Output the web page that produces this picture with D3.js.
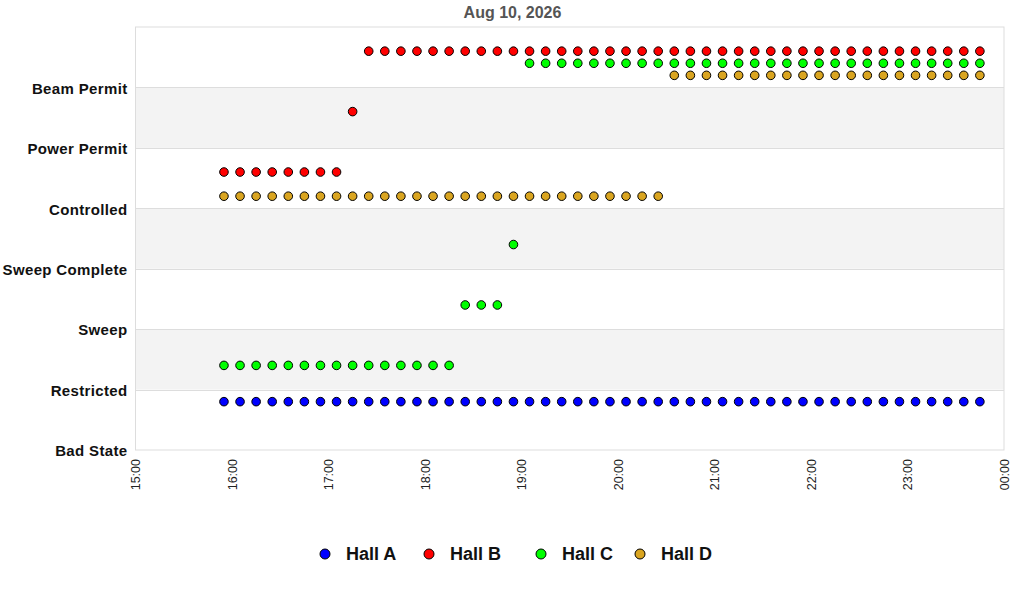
<!DOCTYPE html>
<html>
<head>
<meta charset="utf-8">
<script src="https://cdn.jsdelivr.net/npm/d3@7"></script>
<style>
  body { margin: 0; background: #fff; }
  svg { font-family: "Liberation Sans", Arial, sans-serif; }
  .grid-line { stroke: #dddddd; stroke-width: 1; }
</style>
</head>
<body>
<svg id="chart"></svg>
<script>
// states, bottom to top (label sits at the bottom edge of its band)
let states = ["Bad State", "Restricted", "Sweep", "Sweep Complete", "Controlled", "Power Permit", "Beam Permit"];
let halls = ["Hall A", "Hall B", "Hall C", "Hall D"];
let hallColors = ["#0000ff", "#ff0000", "#00ff00", "#daa520"];
// position of each hall inside a band
let hallOffsets = [0.8, 0.6, 0.4, 0.2];
let xTicks = ["15:00", "16:00", "17:00", "18:00", "19:00", "20:00", "21:00", "22:00", "23:00", "00:00"];
let title = "Aug 10, 2026";

// sample times (one every 10 minutes)
let times = ["15:55", "16:05", "16:15", "16:25", "16:35", "16:45", "16:55", "17:05",
	"17:15", "17:25", "17:35", "17:45", "17:55", "18:05", "18:15", "18:25",
	"18:35", "18:45", "18:55", "19:05", "19:15", "19:25", "19:35", "19:45",
	"19:55", "20:05", "20:15", "20:25", "20:35", "20:45", "20:55", "21:05",
	"21:15", "21:25", "21:35", "21:45", "21:55", "22:05", "22:15", "22:25",
	"22:35", "22:45", "22:55", "23:05", "23:15", "23:25", "23:35", "23:45"];

// state index of each hall at each sample time
let hallA = [0, 0, 0, 0, 0, 0, 0, 0, 0, 0, 0, 0, 0, 0, 0, 0,
	0, 0, 0, 0, 0, 0, 0, 0, 0, 0, 0, 0, 0, 0, 0, 0,
	0, 0, 0, 0, 0, 0, 0, 0, 0, 0, 0, 0, 0, 0, 0, 0];
let hallB = [4, 4, 4, 4, 4, 4, 4, 4, 5, 6, 6, 6, 6, 6, 6, 6,
	6, 6, 6, 6, 6, 6, 6, 6, 6, 6, 6, 6, 6, 6, 6, 6,
	6, 6, 6, 6, 6, 6, 6, 6, 6, 6, 6, 6, 6, 6, 6, 6];
let hallC = [1, 1, 1, 1, 1, 1, 1, 1, 1, 1, 1, 1, 1, 1, 1, 2,
	2, 2, 3, 6, 6, 6, 6, 6, 6, 6, 6, 6, 6, 6, 6, 6,
	6, 6, 6, 6, 6, 6, 6, 6, 6, 6, 6, 6, 6, 6, 6, 6];
let hallD = [4, 4, 4, 4, 4, 4, 4, 4, 4, 4, 4, 4, 4, 4, 4, 4,
	4, 4, 4, 4, 4, 4, 4, 4, 4, 4, 4, 4, 6, 6, 6, 6,
	6, 6, 6, 6, 6, 6, 6, 6, 6, 6, 6, 6, 6, 6, 6, 6];
let hallSeries = [hallA, hallB, hallC, hallD];

let width = 1024;
let height = 600;
let marginLeft = 135.5;
let marginRight = 20;
let marginTop = 27;
let plotBottom = 450;

let svg = d3.select("#chart").attr("width", width).attr("height", height);

// times as minutes after 15:00; 00:00 is the end of the day
let toMin = function(s) {
	let p = s.split(":");
	let m = (+p[0]) * 60 + (+p[1]);
	if (m < 15 * 60) m += 24 * 60;
	return m - 15 * 60;
};

let scaleX = d3.scaleLinear()
	.domain([toMin(xTicks[0]), toMin(xTicks[xTicks.length - 1])])
	.range([marginLeft, width - marginRight]);
let scaleY = d3.scaleLinear()
	.domain([0, states.length])
	.range([plotBottom, marginTop]);

// shaded bands
let bandIdx = d3.range(states.length).filter(d => d % 2 == 1);
svg.selectAll(".band")
	.data(bandIdx)
	.enter()
	.append("rect")
	.attr("x", scaleX.range()[0])
	.attr("width", scaleX.range()[1] - scaleX.range()[0])
	.attr("y", d => scaleY(d + 1))
	.attr("height", d => scaleY(d) - scaleY(d + 1))
	.style("fill", "#f3f3f3");

// y axis (labels only) + horizontal grid
let axisY = d3.axisLeft(scaleY)
	.tickValues(d3.range(states.length))
	.tickFormat(d => states[d])
	.tickSize(0)
	.tickPadding(8);
svg.append("g")
	.attr("class", "y-axis")
	.attr("transform", `translate(${marginLeft}, 1)`)
	.call(axisY)
	.call(g => g.select(".domain").remove())
	.selectAll("text")
	.style("font-size", "15px")
	.style("letter-spacing", "0.35px")
	.style("font-weight", "bold")
	.style("fill", "#111");

svg.selectAll(".hgrid")
	.data(d3.range(1, states.length))
	.enter()
	.append("line")
	.classed("grid-line", true)
	.attr("x1", scaleX.range()[0])
	.attr("x2", scaleX.range()[1])
	.attr("y1", d => Math.round(scaleY(d)) + 0.5)
	.attr("y2", d => Math.round(scaleY(d)) + 0.5);

// plot frame
svg.append("rect")
	.attr("x", scaleX.range()[0])
	.attr("y", marginTop)
	.attr("width", scaleX.range()[1] - scaleX.range()[0])
	.attr("height", plotBottom - marginTop)
	.style("fill", "none")
	.style("stroke", "#dddddd");

// x axis, rotated labels
let axisX = d3.axisBottom(scaleX)
	.tickValues(xTicks.map(toMin))
	.tickFormat((d, i) => xTicks[i])
	.tickSize(0)
	.tickPadding(0);
svg.append("g")
	.attr("class", "x-axis")
	.attr("transform", `translate(0, ${plotBottom})`)
	.call(axisX)
	.call(g => g.select(".domain").remove())
	.selectAll("text")
	.style("text-anchor", "end")
	.style("font-size", "12.5px")
	.style("fill", "#222")
	.attr("dx", "-9px")
	.attr("dy", "0.35em")
	.attr("y", 0)
	.attr("transform", "rotate(-90)");

// points
for (let h = 0; h < halls.length; h++) {
	let pts = times.map((t, i) => ({ t: toMin(t), s: hallSeries[h][i] }));
	svg.selectAll(".dot" + h)
		.data(pts)
		.enter()
		.append("circle")
		.attr("r", 4.3)
		.attr("cx", d => scaleX(d.t))
		.attr("cy", d => scaleY(d.s + hallOffsets[h]))
		.style("fill", hallColors[h])
		.style("stroke", "#000")
		.style("stroke-width", 1);
}

// title
svg.append("text")
	.attr("x", 512.5)
	.attr("y", 18)
	.attr("text-anchor", "middle")
	.style("font-size", "16px")
	.style("font-weight", "bold")
	.style("fill", "#555")
	.text(title);

// legend
let legendX = [325, 429, 541, 640];
let legend = svg.selectAll(".legend")
	.data(halls)
	.enter()
	.append("g")
	.attr("transform", (d, i) => `translate(${legendX[i]}, 554)`);
legend.append("circle")
	.attr("r", 5)
	.style("fill", (d, i) => hallColors[i])
	.style("stroke", "#000");
legend.append("text")
	.attr("x", 21)
	.attr("dy", "0.35em")
	.style("font-size", "18px")
	.style("font-weight", "bold")
	.style("fill", "#111")
	.text(d => d);
</script>
</body>
</html>
